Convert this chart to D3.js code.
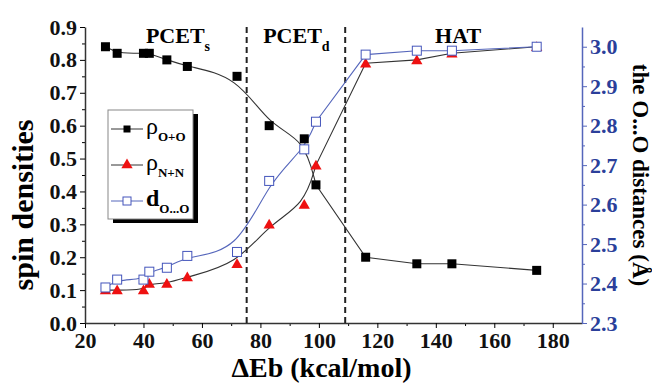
<!DOCTYPE html>
<html>
<head>
<meta charset="utf-8">
<script src="https://cdn.jsdelivr.net/npm/d3@7"></script>
<style>
  body { margin: 0; background: #fff; }
  svg text { font-family: "Liberation Serif", "Times New Roman", Times, "DejaVu Serif", serif; font-weight: bold; }
</style>
</head>
<body>
<div id="chart"></div>
<script>
/* spin densities and O...O distance vs dEb */

const dEb   = [27, 31, 40, 42, 48, 55, 72, 83, 95, 99, 116, 133.5, 145.5, 174.5];
const rhoOO = [0.84, 0.82, 0.82, 0.82, 0.80, 0.78, 0.75, 0.60, 0.56, 0.42, 0.20, 0.18, 0.18, 0.16];
const rhoNN = [0.10, 0.10, 0.10, 0.12, 0.12, 0.14, 0.18, 0.30, 0.36, 0.48, 0.79, 0.80, 0.82, 0.84];
const dOO   = [2.39, 2.41, 2.41, 2.43, 2.44, 2.47, 2.48, 2.66, 2.74, 2.81, 2.98, 2.99, 2.99, 3.00];

const xTicks = [20, 40, 60, 80, 100, 120, 140, 160, 180];
const yTicks = [0.0, 0.1, 0.2, 0.3, 0.4, 0.5, 0.6, 0.7, 0.8, 0.9];
const y2Ticks = [2.3, 2.4, 2.5, 2.6, 2.7, 2.8, 2.9, 3.0];
const borders = [75.3, 109];
const regions = [
    {name: "PCET", sub: "s", x: 51.8},
    {name: "PCET", sub: "d", x: 92.3},
    {name: "HAT", sub: "", x: 147.6}
];

const width = 652, height = 385,
    margin = ({top: 27, right: 70, bottom: 62, left: 85});

const serif = '"Liberation Serif", "Times New Roman", Times, "DejaVu Serif", serif';
const blue = "#5566bb", blueText = "#2b3f9a";

let svg = d3.select("#chart")
    .append("svg")
    .attr("width", width)
    .attr("height", height)
    .attr("font-family", serif)
    .attr("font-weight", "bold");

let x = d3.scaleLinear()
    .domain([20, 190])
    .range([margin.left, width - margin.right]);

let y = d3.scaleLinear()
    .domain([0, 0.9])
    .range([height - margin.bottom, margin.top]);

let y2 = d3.scaleLinear()
    .domain([2.3, 3.05])
    .range([height - margin.bottom, margin.top]);

// minor ticks first, then major axes on top
svg.append("g")
    .attr("transform", `translate(0,${height - margin.bottom})`)
    .call(d3.axisBottom(x).tickValues(d3.range(30, 190, 20)).tickSize(3).tickFormat(""))
    .call(g => g.select(".domain").remove());
svg.append("g")
    .attr("transform", `translate(${margin.left},0)`)
    .call(d3.axisLeft(y).tickValues(d3.range(0.05, 0.9, 0.1)).tickSize(3).tickFormat(""))
    .call(g => g.select(".domain").remove());
svg.append("g")
    .attr("transform", `translate(${width - margin.right},0)`)
    .call(d3.axisRight(y2).tickValues(d3.range(2.35, 3.05, 0.1)).tickSize(3).tickFormat(""))
    .call(g => g.select(".domain").remove())
    .call(g => g.selectAll("line").attr("stroke", blue));

const xAxis = g => g
    .attr("transform", `translate(0,${height - margin.bottom})`)
    .call(d3.axisBottom(x).tickValues(xTicks).tickSize(5).tickSizeOuter(0).tickPadding(4))
    .attr("font-family", serif)
    .call(g => g.selectAll("text").attr("font-size", 22).attr("fill", "#111"))
    .call(g => g.select(".domain").attr("stroke-width", 1.5).attr("stroke", "#333"));

const yAxis = g => g
    .attr("transform", `translate(${margin.left},0)`)
    .call(d3.axisLeft(y).tickValues(yTicks).tickSize(5).tickSizeOuter(0).tickPadding(3).tickFormat(d3.format(".1f")))
    .attr("font-family", serif)
    .call(g => g.selectAll("text").attr("font-size", 22).attr("fill", "#111"))
    .call(g => g.select(".domain").attr("stroke-width", 1.5).attr("stroke", "#333"));

const y2Axis = g => g
    .attr("transform", `translate(${width - margin.right},0)`)
    .call(d3.axisRight(y2).tickValues(y2Ticks).tickSize(5).tickSizeOuter(0).tickPadding(3).tickFormat(d3.format(".1f")))
    .attr("font-family", serif)
    .call(g => g.selectAll("text").attr("font-size", 22).attr("fill", blueText))
    .call(g => g.selectAll("line").attr("stroke", blue))
    .call(g => g.select(".domain").attr("stroke-width", 1.5).attr("stroke", blue));

svg.append("g").call(xAxis);
svg.append("g").call(yAxis);
svg.append("g").call(y2Axis);

// axis titles
svg.append("text")
    .attr("x", (x(20) + x(190)) / 2 - 12)
    .attr("y", 377)
    .attr("text-anchor", "middle")
    .attr("font-size", 28)
    .text("\u0394Eb (kcal/mol)");

svg.append("text")
    .attr("transform", `translate(33,${(y(0) + y(0.9)) / 2 + 30}) rotate(-90)`)
    .attr("text-anchor", "middle")
    .attr("font-size", 30)
    .text("spin densities");

svg.append("text")
    .attr("transform", `translate(633,${(y(0) + y(0.9)) / 2}) rotate(90)`)
    .attr("text-anchor", "middle")
    .attr("font-size", 23)
    .text("the O...O distances (\u00c5)");

// region borders
svg.selectAll(".border")
    .data(borders)
    .join("line")
    .attr("class", "border")
    .attr("x1", d => x(d)).attr("x2", d => x(d))
    .attr("y1", y(0.9)).attr("y2", y(0))
    .attr("stroke", "#222")
    .attr("stroke-width", 2)
    .attr("stroke-dasharray", "6,4");

let reg = svg.selectAll(".region")
    .data(regions)
    .join("text")
    .attr("class", "region")
    .attr("x", d => x(d.x))
    .attr("y", 43)
    .attr("text-anchor", "middle")
    .attr("font-size", 22);
reg.append("tspan").text(d => d.name);
reg.append("tspan").attr("font-size", 14).attr("dy", 8).text(d => d.sub);

// lines: smooth fit in PCET part, straight segments in HAT part
const smooth = d3.line().curve(d3.curveBasis);
const straight = d3.line();

function drawSeries(vals, sc, color) {
    const pts = dEb.map((d, i) => [x(d), sc(vals[i])]);
    svg.append("path")
        .attr("d", smooth(pts.slice(0, 10)) + straight(pts.slice(9)).replace(/^M/, "L"))
        .attr("fill", "none")
        .attr("stroke", color)
        .attr("stroke-width", 1.1);
    return pts;
}

const ptsOO = drawSeries(rhoOO, y, "#333");
const ptsNN = drawSeries(rhoNN, y, "#333");
const ptsD = drawSeries(dOO, y2, blue);

const tri = d3.symbol().type(d3.symbolTriangle).size(55);

svg.selectAll(".sqOO")
    .data(ptsOO)
    .join("rect")
    .attr("x", d => d[0] - 4.5).attr("y", d => d[1] - 4.5)
    .attr("width", 9).attr("height", 9)
    .attr("fill", "#000");

svg.selectAll(".triNN")
    .data(ptsNN)
    .join("path")
    .attr("d", tri)
    .attr("transform", d => `translate(${d[0]},${d[1] + 1})`)
    .attr("fill", "#ee1111");

svg.selectAll(".sqD")
    .data(ptsD)
    .join("rect")
    .attr("x", d => d[0] - 4.5).attr("y", d => d[1] - 4.5)
    .attr("width", 9).attr("height", 9)
    .attr("fill", "#fff")
    .attr("stroke", "#4455bb")
    .attr("stroke-width", 1);

// legend
const lg = svg.append("g").attr("transform", "translate(108,110)");
lg.append("rect").attr("x", 5).attr("y", 4).attr("width", 85).attr("height", 109).attr("fill", "#000");
lg.append("rect").attr("x", 0).attr("y", 0).attr("width", 85).attr("height", 109)
    .attr("fill", "#fff").attr("stroke", "#888").attr("stroke-width", 1);

const legendItems = [
    {sym: "rho", sub: "O+O", yy: 19, kind: "sq", color: "#333"},
    {sym: "rho", sub: "N+N", yy: 55, kind: "tri", color: "#333"},
    {sym: "d", sub: "O...O", yy: 91, kind: "open", color: blue}
];

legendItems.forEach(it => {
    lg.append("line").attr("x1", 3).attr("x2", 35).attr("y1", it.yy).attr("y2", it.yy)
        .attr("stroke", it.color).attr("stroke-width", 1);
    if (it.kind === "sq") {
        lg.append("rect").attr("x", 15.5).attr("y", it.yy - 3.5).attr("width", 7).attr("height", 7).attr("fill", "#000");
    } else if (it.kind === "tri") {
        lg.append("path").attr("d", tri).attr("transform", `translate(19,${it.yy})`).attr("fill", "#ee1111");
    } else {
        lg.append("rect").attr("x", 15).attr("y", it.yy - 4).attr("width", 8).attr("height", 8)
            .attr("fill", "#fff").attr("stroke", "#4455bb");
    }
    let t = lg.append("text").attr("x", 38).attr("y", it.yy + 5);
    if (it.sym === "rho") {
        t.append("tspan").attr("font-size", 24).attr("font-weight", "normal").text("\u03c1");
    } else {
        t.append("tspan").attr("font-size", 24).text("d");
    }
    t.append("tspan").attr("font-size", 13).attr("dy", 7).text(it.sub);
});
</script>
</body>
</html>
